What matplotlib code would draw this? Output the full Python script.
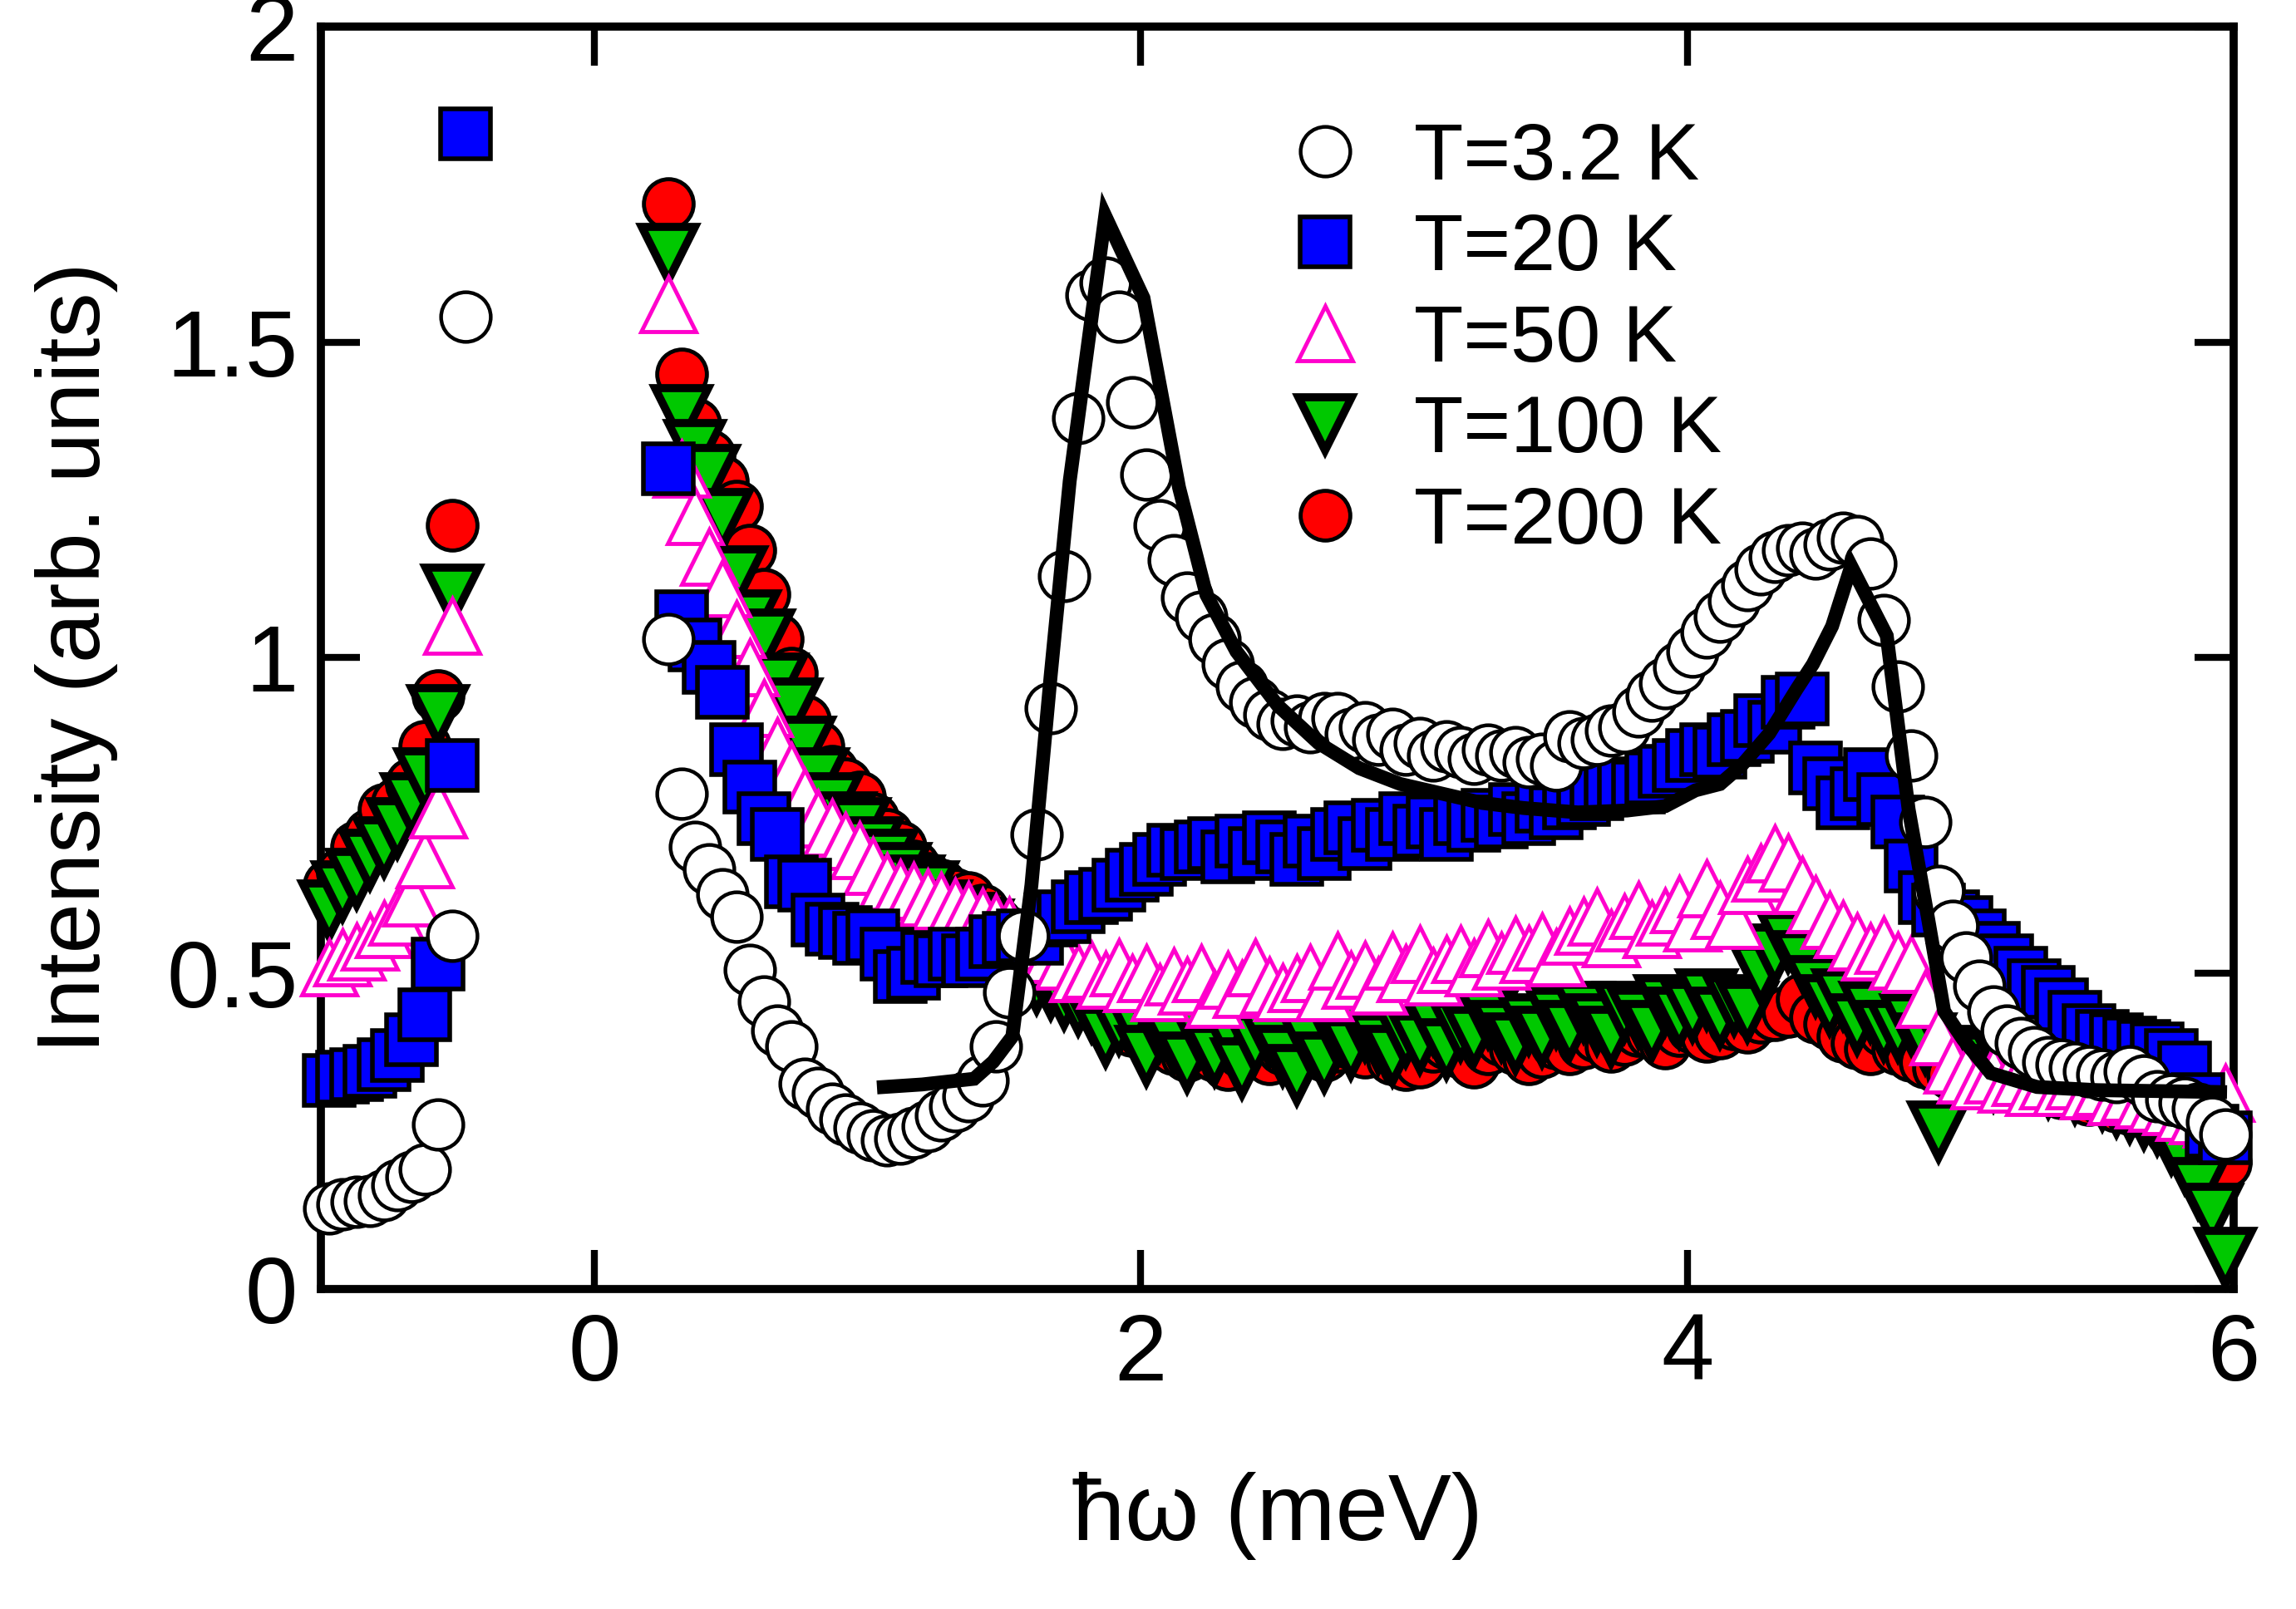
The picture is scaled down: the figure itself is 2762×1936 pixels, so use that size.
import numpy as np
import matplotlib
matplotlib.use("Agg")
import matplotlib.pyplot as plt

plt.rcParams['font.family'] = ['Liberation Sans', 'DejaVu Sans']
plt.rcParams['mathtext.default'] = 'regular'

# energy transfer (meV): elastic-line wing on the left, inelastic part on the right
energy = [-0.97, -0.92, -0.87, -0.82, -0.77, -0.72, -0.67, -0.62, -0.57, -0.52, -0.47,
          0.27, 0.32, 0.37, 0.42, 0.47, 0.52, 0.57, 0.62, 0.67, 0.72,
          0.77, 0.82, 0.87, 0.92, 0.97, 1.02, 1.07, 1.12, 1.17, 1.22,
          1.27, 1.32, 1.37, 1.42, 1.47, 1.52, 1.57, 1.62, 1.67, 1.72,
          1.77, 1.82, 1.87, 1.92, 1.97, 2.02, 2.07, 2.12, 2.17, 2.22,
          2.27, 2.32, 2.37, 2.42, 2.47, 2.52, 2.57, 2.62, 2.67, 2.72,
          2.77, 2.82, 2.87, 2.92, 2.97, 3.02, 3.07, 3.12, 3.17, 3.22,
          3.27, 3.32, 3.37, 3.42, 3.47, 3.52, 3.57, 3.62, 3.67, 3.72,
          3.77, 3.82, 3.87, 3.92, 3.97, 4.02, 4.07, 4.12, 4.17, 4.22,
          4.27, 4.32, 4.37, 4.42, 4.47, 4.52, 4.57, 4.62, 4.67, 4.72,
          4.77, 4.82, 4.87, 4.92, 4.97, 5.02, 5.07, 5.12, 5.17, 5.22,
          5.27, 5.32, 5.37, 5.42, 5.47, 5.52, 5.57, 5.62, 5.67, 5.72,
          5.77, 5.82, 5.87, 5.92, 5.97]

nan = np.nan

i_3K = [0.127, 0.134, 0.138, 0.140, 0.149, 0.165, 0.178, 0.19, 0.26, 0.56, 1.54,
        1.03, 0.785, 0.70, 0.665, 0.625, 0.59, 0.505, 0.455, 0.41, 0.385,
        0.325, 0.31, 0.285, 0.268, 0.255, 0.243, 0.236, 0.238, 0.248, 0.258,
        0.275, 0.29, 0.305, 0.33, 0.385, 0.47, 0.56, 0.72, 0.92, 1.13,
        1.38, 1.575, 1.595, 1.54, 1.405, 1.29, 1.21, 1.155, 1.095, 1.065,
        1.03, 0.99, 0.955, 0.93, 0.91, 0.895, 0.90, 0.89, 0.905, 0.905,
        0.88, 0.89, 0.87, 0.88, 0.855, 0.865, 0.845, 0.86, 0.85, 0.84,
        0.855, 0.845, 0.85, 0.835, 0.84, 0.83, 0.875, 0.865, 0.87, 0.885,
        0.89, 0.915, 0.94, 0.96, 0.985, 1.01, 1.04, 1.065, 1.09, 1.115,
        1.14, 1.16, 1.17, 1.175, 1.165, 1.18, 1.19, 1.185, 1.15, 1.06,
        0.955, 0.845, 0.74, 0.63, 0.575, 0.525, 0.48, 0.44, 0.41, 0.39,
        0.375, 0.36, 0.355, 0.35, 0.345, 0.34, 0.335, 0.345, 0.33, 0.305,
        0.30, 0.295, 0.285, 0.265, 0.245]

i_20K = [0.33, 0.335, 0.34, 0.345, 0.355, 0.37, 0.395, 0.435, 0.515, 0.83, 1.83,
         1.30, 1.065, 1.02, 0.985, 0.945, 0.855, 0.795, 0.745, 0.72, 0.645,
         0.64, 0.585, 0.57, 0.565, 0.555, 0.56, 0.53, 0.495, 0.50, 0.525,
         0.52, 0.53, 0.52, 0.53, 0.55, 0.555, 0.56, 0.555, 0.585, 0.59,
         0.605, 0.62, 0.625, 0.64, 0.655, 0.665, 0.68, 0.695, 0.69, 0.70,
         0.705, 0.685, 0.71, 0.69, 0.715, 0.70, 0.68, 0.71, 0.69, 0.72,
         0.73, 0.705, 0.735, 0.72, 0.745, 0.725, 0.74, 0.72, 0.745, 0.735,
         0.75, 0.74, 0.76, 0.745, 0.765, 0.755, 0.77, 0.775, 0.785, 0.795,
         0.80, 0.795, 0.81, 0.82, 0.83, 0.845, 0.855, 0.85, 0.87, 0.875,
         0.90, 0.89, 0.93, 0.935, 0.825, 0.80, 0.77, 0.785, 0.815, 0.775,
         0.74, 0.67, 0.62, 0.60, 0.59, 0.58, 0.56, 0.54, 0.52, 0.50,
         0.48, 0.47, 0.45, 0.43, 0.41, 0.40, 0.395, 0.39, 0.385, 0.38,
         0.37, 0.35, 0.30, 0.25, 0.24]

i_50K = [0.51, 0.525, 0.535, 0.55, 0.57, 0.59, 0.62, 0.68, 0.76, 1.05, nan,
         1.56, 1.30, 1.225, 1.16, 1.11, 1.045, 0.985, 0.92, 0.86, 0.82,
         0.78, 0.745, 0.73, 0.71, 0.695, 0.67, 0.645, 0.635, 0.63, 0.62,
         0.615, 0.605, 0.60, 0.59, 0.58, 0.575, 0.56, 0.55, 0.53, 0.52,
         0.50, 0.505, 0.49, 0.51, 0.485, 0.50, 0.47, 0.495, 0.48, 0.50,
         0.46, 0.49, 0.475, 0.51, 0.48, 0.47, 0.485, 0.50, 0.47, 0.52,
         0.49, 0.505, 0.48, 0.52, 0.50, 0.53, 0.495, 0.515, 0.53, 0.51,
         0.54, 0.52, 0.545, 0.53, 0.55, 0.525, 0.56, 0.575, 0.59, 0.555,
         0.58, 0.60, 0.57, 0.59, 0.61, 0.58, 0.635, 0.60, 0.585, 0.64,
         0.66, 0.69, 0.675, 0.64, 0.61, 0.585, 0.57, 0.55, 0.535, 0.545,
         0.52, 0.515, 0.46, 0.40, 0.355, 0.34, 0.33, 0.34, 0.325, 0.335,
         0.32, 0.33, 0.32, 0.33, 0.315, 0.32, 0.305, 0.31, 0.30, 0.295,
         0.29, 0.28, 0.275, 0.27, 0.31]

i_100K = [0.60, 0.63, 0.65, 0.68, 0.70, 0.73, 0.77, 0.81, 0.91, 1.10, nan,
          1.64, 1.385, 1.33, 1.29, 1.22, 1.13, 1.06, 1.03, 0.96, 0.92,
          0.86, 0.81, 0.77, 0.74, 0.73, 0.70, 0.68, 0.66, 0.64, 0.63,
          0.60, 0.59, 0.58, 0.57, 0.55, 0.53, 0.50, 0.485, 0.475, 0.46,
          0.45, 0.44, 0.40, 0.42, 0.43, 0.37, 0.41, 0.39, 0.36, 0.40,
          0.37, 0.41, 0.35, 0.39, 0.40, 0.37, 0.34, 0.39, 0.36, 0.40,
          0.38, 0.41, 0.39, 0.37, 0.40, 0.39, 0.42, 0.38, 0.41, 0.40,
          0.43, 0.41, 0.39, 0.42, 0.40, 0.43, 0.41, 0.44, 0.42, 0.40,
          0.44, 0.43, 0.41, 0.45, 0.43, 0.44, 0.46, 0.43, 0.45, 0.44,
          0.50, 0.53, 0.55, 0.52, 0.48, 0.45, 0.46, 0.42, 0.44, 0.41,
          0.41, 0.42, 0.39, 0.25, 0.37, 0.36, 0.34, 0.33, 0.35, 0.34,
          0.33, 0.32, 0.33, 0.31, 0.32, 0.30, 0.29, 0.28, 0.27, 0.26,
          0.23, 0.20, 0.16, 0.12, 0.05]

i_200K = [0.64, 0.66, 0.70, 0.72, 0.76, 0.77, 0.80, 0.86, 0.94, 1.21, nan,
          1.72, 1.45, 1.37, 1.32, 1.28, 1.24, 1.17, 1.10, 1.03, 0.975,
          0.90, 0.86, 0.82, 0.80, 0.78, 0.745, 0.72, 0.70, 0.67, 0.65,
          0.64, 0.625, 0.62, 0.60, 0.58, 0.565, 0.55, 0.52, 0.50, 0.49,
          0.47, 0.46, 0.44, 0.43, 0.41, 0.40, 0.39, 0.38, 0.37, 0.38,
          0.37, 0.355, 0.375, 0.39, 0.365, 0.38, 0.385, 0.40, 0.37, 0.385,
          0.39, 0.375, 0.40, 0.365, 0.355, 0.36, 0.385, 0.39, 0.375, 0.36,
          0.38, 0.395, 0.38, 0.365, 0.375, 0.39, 0.38, 0.39, 0.40, 0.385,
          0.395, 0.41, 0.405, 0.39, 0.41, 0.415, 0.40, 0.405, 0.42, 0.415,
          0.43, 0.435, 0.44, 0.46, 0.43, 0.42, 0.40, 0.39, 0.38, 0.41,
          0.38, 0.37, 0.36, 0.35, 0.34, 0.345, 0.335, 0.34, 0.325, 0.335,
          0.32, 0.325, 0.31, 0.315, 0.30, 0.30, 0.29, 0.285, 0.28, 0.27,
          0.25, 0.235, 0.215, 0.205, 0.20]

# model calculation for T = 3.2 K (solid line)
fit_energy = [1.06, 1.20, 1.39, 1.46, 1.53, 1.60, 1.67, 1.74, 1.87, 2.01,
              2.14, 2.24, 2.35, 2.50, 2.65, 2.80, 2.95, 3.10, 3.25, 3.40,
              3.60, 3.78, 3.92, 4.03, 4.12, 4.20, 4.30, 4.40, 4.46, 4.53,
              4.60, 4.73, 4.81, 4.88, 4.94, 5.01, 5.11, 5.28, 5.50, 5.95]
fit_int = [0.320, 0.324, 0.333, 0.36, 0.40, 0.64, 0.97, 1.28, 1.70, 1.57,
           1.27, 1.10, 1.01, 0.925, 0.865, 0.825, 0.80, 0.785, 0.77, 0.762,
           0.755, 0.758, 0.765, 0.79, 0.80, 0.83, 0.88, 0.95, 0.99, 1.05,
           1.145, 1.035, 0.76, 0.59, 0.44, 0.395, 0.342, 0.32, 0.315, 0.312]

fig = plt.figure(figsize=(27.62, 19.36), dpi=100)
fig.subplots_adjust(left=0.1398, right=0.9729, bottom=0.1989, top=0.9835)
ax = fig.add_subplot(111)

common = dict(linestyle='none', clip_on=False)
h200, = ax.plot(energy, i_200K, marker='o', ms=43, mfc='#ff0000', mec='black', mew=3.5,
                zorder=3, label='T=200 K', **common)
h100, = ax.plot(energy, i_100K, marker='v', ms=46, mfc='#00c800', mec='black', mew=7,
                zorder=4, label='T=100 K', **common)
h50, = ax.plot(energy, i_50K, marker='^', ms=48, mfc='white', mec='#ff00cc', mew=3.5,
               zorder=5, label='T=50 K', **common)
h20, = ax.plot(energy, i_20K, marker='s', ms=43, mfc='#0000ff', mec='black', mew=4,
               zorder=6, label='T=20 K', **common)
h3, = ax.plot(energy, i_3K, marker='o', ms=43, mfc='white', mec='black', mew=3.2,
              zorder=7, label='T=3.2 K', **common)
ax.plot(fit_energy, fit_int, color='black', lw=12, solid_joinstyle='miter', zorder=8)

ax.set_xlim(-1, 6)
ax.set_ylim(0, 2)
ax.set_xticks([0, 2, 4, 6])
ax.set_yticks([0, 0.5, 1, 1.5, 2], labels=['0', '0.5', '1', '1.5', '2'])
ax.tick_params(direction='in', length=34, width=6, top=True, right=True,
               labelsize=82, pad=20)
for sp in ax.spines.values():
    sp.set_linewidth(7)

ax.set_xlabel('ħω (meV)', fontsize=82, labelpad=62)
ax.set_ylabel('Intensity (arb. units)', fontsize=78, labelpad=42)

ax.legend([h3, h20, h50, h100, h200],
          ['T=3.2 K', 'T=20 K', 'T=50 K', 'T=100 K', 'T=200 K'],
          loc='upper left', bbox_to_anchor=(0.504, 0.925), frameon=False,
          fontsize=70, handlelength=1.0, handletextpad=0.6, labelspacing=0.2,
          borderpad=0, borderaxespad=0, numpoints=1)

fig.savefig('out.png', dpi=100)
